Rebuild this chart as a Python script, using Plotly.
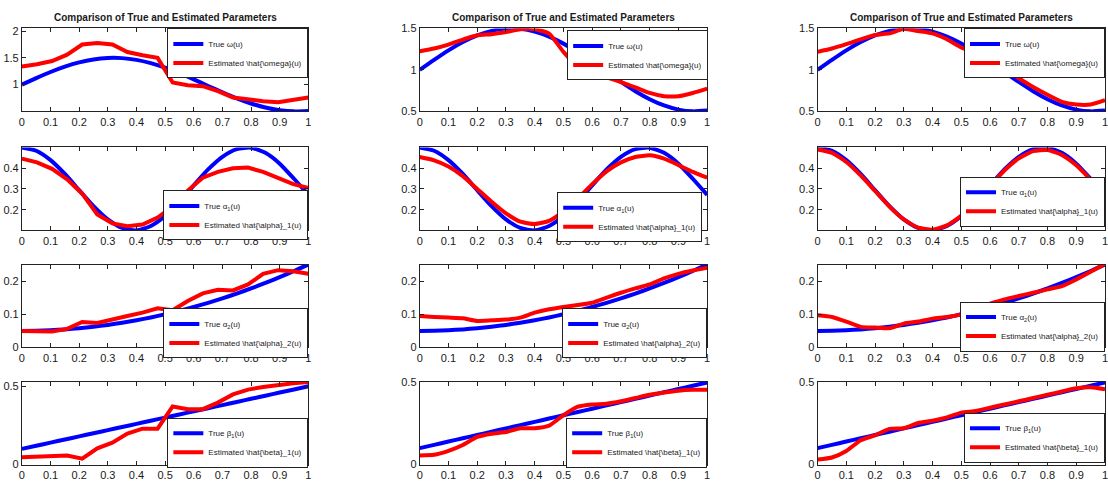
import plotly.graph_objects as go

# ---------------------------------------------------------------- data
# fine grid shared by the true curves and the smooth estimators
u_fine = [0.0, 0.05, 0.1, 0.15, 0.2, 0.25, 0.3, 0.35, 0.4, 0.45, 0.5,
          0.55, 0.6, 0.65, 0.7, 0.75, 0.8, 0.85, 0.9, 0.95, 1.0]
# coarse grid of the first (piecewise) estimator
u_coarse = [0.0, 0.0526, 0.1053, 0.1579, 0.2105, 0.2632, 0.3158, 0.3684,
            0.4211, 0.4737, 0.5263, 0.5789, 0.6316, 0.6842, 0.7368, 0.7895,
            0.8421, 0.8947, 0.9474, 1.0]

true_omega = [1.0, 1.121, 1.236, 1.336, 1.416, 1.471, 1.498, 1.495, 1.462, 1.401,
              1.317, 1.214, 1.097, 0.975, 0.855, 0.743, 0.647, 0.571, 0.521, 0.5, 0.509]
true_alpha1 = [0.5, 0.484, 0.439, 0.372, 0.294, 0.217, 0.153, 0.112, 0.1, 0.121,
               0.169, 0.239, 0.317, 0.394, 0.455, 0.492, 0.499, 0.474, 0.422, 0.349, 0.271]
true_alpha2 = [0.05, 0.0505, 0.052, 0.0545, 0.058, 0.0625, 0.068, 0.0745, 0.082, 0.0905,
               0.1, 0.1105, 0.122, 0.1345, 0.148, 0.1625, 0.178, 0.1945, 0.212, 0.2305, 0.25]
true_beta1 = [0.1, 0.12, 0.14, 0.16, 0.18, 0.2, 0.22, 0.24, 0.26, 0.28,
              0.3, 0.32, 0.34, 0.36, 0.38, 0.4, 0.42, 0.44, 0.46, 0.48, 0.5]

# estimator A (coarse grid)
estA_omega = [1.34, 1.38, 1.44, 1.56, 1.75, 1.78, 1.75, 1.61, 1.55, 1.50,
              1.04, 0.99, 0.97, 0.88, 0.76, 0.72, 0.69, 0.67, 0.71, 0.76]
estA_alpha1 = [0.446, 0.428, 0.397, 0.346, 0.277, 0.177, 0.134, 0.12, 0.128, 0.162,
               0.215, 0.292, 0.354, 0.382, 0.40, 0.403, 0.382, 0.351, 0.323, 0.305]
estA_alpha2 = [0.05, 0.048, 0.048, 0.056, 0.077, 0.074, 0.083, 0.095, 0.105, 0.118,
               0.112, 0.14, 0.163, 0.174, 0.172, 0.19, 0.222, 0.233, 0.23, 0.222]
estA_beta1 = [0.046, 0.052, 0.058, 0.058, 0.038, 0.104, 0.14, 0.198, 0.229, 0.229,
              0.371, 0.354, 0.354, 0.396, 0.448, 0.479, 0.496, 0.51, 0.52, 0.527]

# estimator B (fine grid)
estB_omega = [1.226, 1.258, 1.305, 1.365, 1.417, 1.43, 1.456, 1.49, 1.49, 1.437,
              1.218, 1.04, 0.96, 0.909, 0.853, 0.79, 0.722, 0.683, 0.683, 0.722, 0.774]
estB_alpha1 = [0.454, 0.438, 0.408, 0.362, 0.30, 0.238, 0.182, 0.142, 0.131, 0.146,
               0.192, 0.254, 0.323, 0.385, 0.428, 0.454, 0.462, 0.446, 0.415, 0.382, 0.354]
estB_alpha2 = [0.095, 0.092, 0.09, 0.088, 0.08, 0.082, 0.084, 0.09, 0.105, 0.115,
               0.122, 0.128, 0.135, 0.15, 0.165, 0.178, 0.19, 0.208, 0.222, 0.232, 0.24]
estB_beta1 = [0.055, 0.059, 0.083, 0.119, 0.168, 0.188, 0.198, 0.221, 0.221, 0.237,
              0.30, 0.352, 0.366, 0.37, 0.385, 0.405, 0.425, 0.439, 0.45, 0.455, 0.455]

# estimator C (fine grid)
estC_omega = [1.218, 1.258, 1.31, 1.369, 1.42, 1.44, 1.496, 1.468, 1.44, 1.369,
              1.27, 1.21, 1.11, 1.012, 0.90, 0.794, 0.70, 0.615, 0.583, 0.583, 0.635]
estC_alpha1 = [0.49, 0.474, 0.43, 0.365, 0.29, 0.215, 0.153, 0.113, 0.103, 0.124,
               0.17, 0.238, 0.314, 0.389, 0.447, 0.482, 0.488, 0.464, 0.414, 0.345, 0.272]
estC_alpha2 = [0.097, 0.092, 0.078, 0.062, 0.06, 0.058, 0.072, 0.078, 0.087, 0.092,
               0.10, 0.118, 0.132, 0.145, 0.155, 0.165, 0.175, 0.185, 0.205, 0.228, 0.252]
estC_beta1 = [0.03, 0.043, 0.083, 0.148, 0.178, 0.217, 0.221, 0.253, 0.267, 0.287,
              0.316, 0.326, 0.346, 0.366, 0.385, 0.405, 0.425, 0.445, 0.464, 0.47, 0.458]

x_ticks = [0, 0.1, 0.2, 0.3, 0.4, 0.5, 0.6, 0.7, 0.8, 0.9, 1]
title_text = "Comparison of True and Estimated Parameters"

true_names = ["True ω(u)", "True α<sub>1</sub>(u)", "True α<sub>2</sub>(u)", "True β<sub>1</sub>(u)"]
est_names = ["Estimated \\hat{\\omega}(u)", "Estimated \\hat{\\alpha}_1(u)",
             "Estimated \\hat{\\alpha}_2(u)", "Estimated \\hat{\\beta}_1(u)"]
true_series = [true_omega, true_alpha1, true_alpha2, true_beta1]
est_series = [
    (u_coarse, [estA_omega, estA_alpha1, estA_alpha2, estA_beta1]),
    (u_fine, [estB_omega, estB_alpha1, estB_alpha2, estB_beta1]),
    (u_fine, [estC_omega, estC_alpha1, estC_alpha2, estC_beta1]),
]

# ---------------------------------------------------------------- layout
W, H = 1108, 492
FONT = "Liberation Sans Narrow, Liberation Sans, Arial, sans-serif"
col_px = [(19, 307), (419, 708), (819, 1108)]
row_px = [(23, 108), (145, 230), (265, 350), (385, 470)]

y_ranges = [
    [[0.5, 2.05], [0.5, 1.5], [0.5, 1.5]],
    [[0.1, 0.5]] * 3,
    [[0, 0.25]] * 3,
    [[0, 0.53], [0, 0.505], [0, 0.505]],
]
y_ticks = [
    [[1, 1.5, 2], [0.5, 1, 1.5], [0.5, 1, 1.5]],
    [[0.2, 0.3, 0.4]] * 3,
    [[0, 0.1, 0.2]] * 3,
    [[0, 0.5]] * 3,
]
# legend box anchor (right edge, top edge) in pixels
legend_px = [
    [(307, 23), (709, 25), (1108, 23)],
    [(307, 189), (703, 191), (1108, 175)],
    [(307, 310), (708, 310), (1108, 303)],
    [(307, 422), (708, 422), (1108, 417)],
]

fig = go.Figure()
layout = dict(
    width=W, height=H,
    margin=dict(l=0, r=0, t=0, b=0),
    paper_bgcolor="white", plot_bgcolor="white",
    font=dict(family=FONT, size=11, color="#1a1a1a"),
    annotations=[],
)

for r in range(4):
    for c in range(3):
        idx = r * 3 + c + 1
        xa = "x" if idx == 1 else f"x{idx}"
        ya = "y" if idx == 1 else f"y{idx}"
        lg = "legend" if idx == 1 else f"legend{idx}"
        ux, ests = est_series[c]
        fig.add_trace(go.Scatter(
            x=u_fine, y=true_series[r], mode="lines", name=true_names[r],
            line=dict(color="#0000ff", width=4, shape="spline", smoothing=0.6),
            xaxis=xa, yaxis=ya, legend=lg))
        fig.add_trace(go.Scatter(
            x=ux, y=ests[r], mode="lines", name=est_names[r],
            line=dict(color="#ff0000", width=4,
                      shape="linear" if c == 0 else "spline", smoothing=0.5),
            xaxis=xa, yaxis=ya, legend=lg))

        x0, x1 = col_px[c]
        t, b = row_px[r]
        axis_common = dict(
            showline=True, linecolor="#222222", linewidth=1, mirror="ticks",
            ticks="inside", ticklen=4, tickwidth=1, tickcolor="#222222",
            showgrid=False, zeroline=False, fixedrange=True,
            ticklabeloverflow="allow",
            tickfont=dict(family=FONT, size=11, color="#1a1a1a"),
        )
        layout["xaxis" if idx == 1 else f"xaxis{idx}"] = dict(
            axis_common, domain=[x0 / W, x1 / W], range=[0, 1],
            tickvals=x_ticks, anchor=ya)
        layout["yaxis" if idx == 1 else f"yaxis{idx}"] = dict(
            axis_common, domain=[1 - b / H, 1 - t / H], range=y_ranges[r][c],
            tickvals=y_ticks[r][c], anchor=xa)

        lx, ly = legend_px[r][c]
        layout[lg] = dict(
            x=lx / W, y=1 - ly / H, xanchor="right", yanchor="top",
            bgcolor="white", bordercolor="#222222", borderwidth=1,
            font=dict(family=FONT, size=8, color="#1a1a1a"),
            tracegroupgap=0, itemwidth=30,
        )

for c in range(3):
    x0, x1 = col_px[c]
    layout["annotations"].append(dict(
        text=f"<b>{title_text}</b>", x=(x0 + x1) / 2 / W, y=1 - 12 / H,
        xref="paper", yref="paper", xanchor="center", yanchor="middle",
        showarrow=False, font=dict(family=FONT, size=10, color="#1a1a1a")))

fig.update_layout(**layout)
fig.write_html("out.html")
